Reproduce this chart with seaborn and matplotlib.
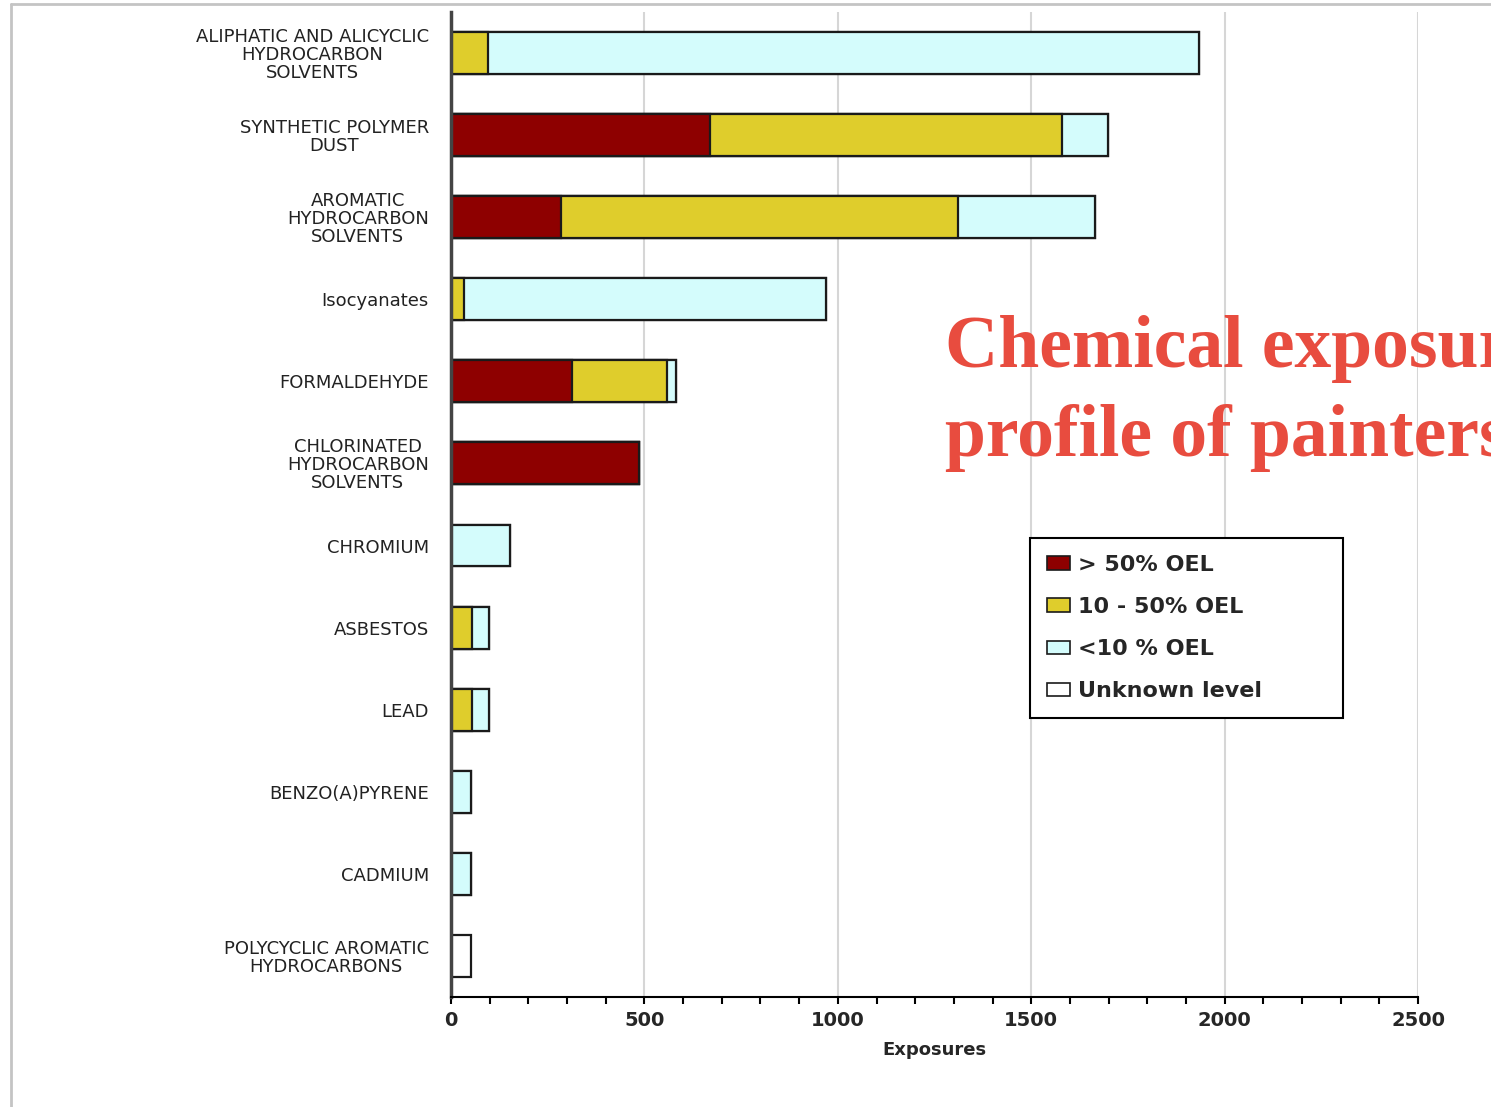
import numpy as np
import pandas as pd
import matplotlib
matplotlib.use("Agg")
from matplotlib import pyplot as plt
from matplotlib.patches import Patch
from matplotlib.lines import Line2D
from matplotlib.ticker import MultipleLocator
import seaborn as sns

# data
categories = [
    "ALIPHATIC AND ALICYCLIC\nHYDROCARBON\nSOLVENTS",
    "SYNTHETIC POLYMER\nDUST",
    "AROMATIC\nHYDROCARBON\nSOLVENTS",
    "Isocyanates",
    "FORMALDEHYDE",
    "CHLORINATED\nHYDROCARBON\nSOLVENTS",
    "CHROMIUM",
    "ASBESTOS",
    "LEAD",
    "BENZO(A)PYRENE",
    "CADMIUM",
    "POLYCYCLIC AROMATIC\nHYDROCARBONS",
]
above_50 = [0, 670, 284, 0, 312, 486, 0, 0, 0, 0, 0, 0]
from_10_to_50 = [95, 910, 1027, 34, 246, 0, 0, 55, 55, 0, 0, 0]
below_10 = [1839, 119, 354, 935, 23, 0, 153, 43, 43, 51, 51, 0]
unknown = [0, 0, 0, 0, 0, 0, 0, 0, 0, 0, 0, 51]

series_labels = ["> 50% OEL", "10 - 50% OEL", "<10 % OEL", "Unknown level"]
series_colors = ["#8e0000", "#dfcd2c", "#d4fcfc", "#ffffff"]
x_ticks = [0, 500, 1000, 1500, 2000, 2500]

sns.set_style("white")
plt.rcParams["font.family"] = ["DejaVu Sans"]

df = pd.DataFrame({
    "cat": categories,
    "red": above_50,
    "yellow": from_10_to_50,
    "cyan": below_10,
    "unknown": unknown,
})
# cumulative totals, drawn from the longest down so each layer shows as a segment
df["c4"] = df["red"] + df["yellow"] + df["cyan"] + df["unknown"]
df["c3"] = df["red"] + df["yellow"] + df["cyan"]
df["c2"] = df["red"] + df["yellow"]
df["c1"] = df["red"]

fig = plt.figure(figsize=(14.91, 11.07), dpi=100)
ax = fig.add_axes([0.3025, 0.0994, 0.6486, 0.8898])

for col, color in zip(["c4", "c3", "c2", "c1"], series_colors[::-1]):
    sns.barplot(data=df, x=col, y="cat", order=categories, orient="h",
                color=color, saturation=1, width=0.51, edgecolor="#1a1a1a",
                linewidth=1.6, errorbar=None, ax=ax)

ax.set_xlim(0, 2500)
ax.set_ylim(11.5, -0.5)
ax.set_xticks(x_ticks)
ax.xaxis.set_minor_locator(MultipleLocator(100))
ax.grid(axis="x", which="major", color="#d6d6d6", linewidth=1.5)
ax.set_axisbelow(True)

for s in ["top", "right"]:
    ax.spines[s].set_visible(False)
ax.spines["left"].set_color("#444444")
ax.spines["left"].set_linewidth(2.5)
ax.spines["bottom"].set_color("black")
ax.spines["bottom"].set_linewidth(1.5)

ax.tick_params(axis="x", which="both", direction="out", length=5, width=1.5,
               color="black", bottom=True, pad=5)
ax.tick_params(axis="y", length=0, pad=16)
for lab in ax.get_xticklabels():
    lab.set_fontsize(14)
    lab.set_fontweight("bold")
for lab in ax.get_yticklabels():
    lab.set_fontsize(13)
    lab.set_color("#222222")
    lab.set_multialignment("center")
    lab.set_linespacing(1.0)

ax.set_ylabel("")
ax.set_xlabel("Exposures", fontsize=13, fontweight="bold", labelpad=8)

# legend box stretched to the reference width
lx0, ly_top, lw, lh = 1030 / 1491, 1 - 538 / 1107, 313 / 1491, 182 / 1107
handles = [Patch(facecolor=c, edgecolor="#1a1a1a", linewidth=1.2) for c in series_colors]
leg = ax.legend(handles, series_labels, loc="upper left", mode="expand",
                bbox_to_anchor=(lx0, ly_top - lh, lw, lh),
                bbox_transform=fig.transFigure, frameon=True, fancybox=False,
                prop={"weight": "bold", "size": 16}, handlelength=1.05,
                handleheight=0.55, handletextpad=0.35, labelspacing=1.0,
                borderpad=0.75, borderaxespad=0)
leg.get_frame().set_edgecolor("black")
leg.get_frame().set_linewidth(1.5)
leg.get_frame().set_facecolor("white")
leg.get_frame().set_alpha(1)

# slide frame edges
fig.add_artist(Line2D([11 / 1491, 1], [1 - 4 / 1107, 1 - 4 / 1107],
                      transform=fig.transFigure, color="#c4c4c4", linewidth=2))
fig.add_artist(Line2D([11 / 1491, 11 / 1491], [0, 1 - 4 / 1107],
                      transform=fig.transFigure, color="#c4c4c4", linewidth=2))

title_font = dict(family=["Liberation Serif", "DejaVu Serif"], fontweight="bold",
                  fontsize=53, color="#e84c3f", ha="left", va="baseline")
fig.text(945 / 1491, 1 - 367 / 1107, "Chemical exposure", **title_font)
fig.text(945 / 1491, 1 - 456 / 1107, "profile of painters", **title_font)

fig.savefig("out.png", dpi=100)
